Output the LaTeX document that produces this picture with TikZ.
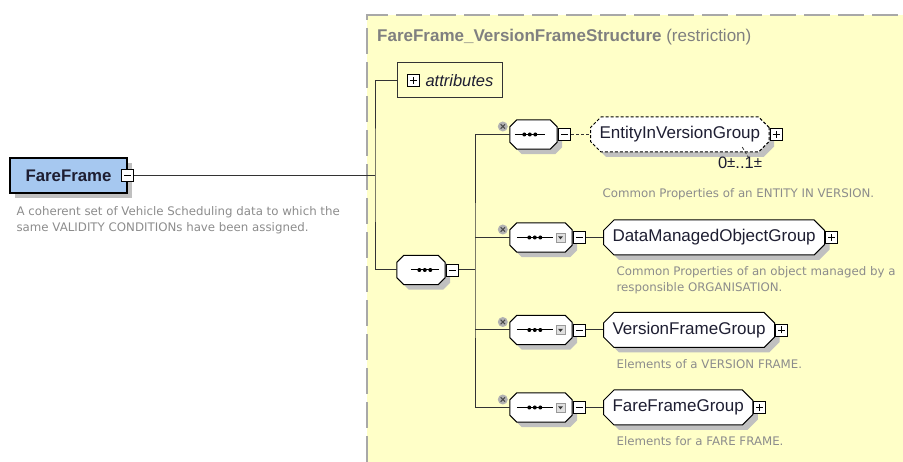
\documentclass[tikz,border=0pt]{standalone}
\usepackage{fontspec}
\setmainfont{Liberation Sans}
\newfontfamily\notefont{DejaVu Sans}
\usetikzlibrary{shapes.misc, positioning, shadows}

\definecolor{structfill}{HTML}{FFFFC8}
\definecolor{elemfill}{HTML}{A6C8F0}
\definecolor{notegray}{HTML}{8C8C8C}
\definecolor{titlegray}{HTML}{808080}
\definecolor{dashgray}{HTML}{A8A8A8}
\definecolor{shadowgray}{HTML}{C0C0C0}
\definecolor{labelink}{HTML}{1E1E32}

\tikzstyle{line} = [draw, line width=1pt, black!80]
\tikzstyle{optline} = [line, dash pattern=on 3pt off 2pt]
\tikzstyle{shadowed} = [drop shadow={shadow xshift=5pt, shadow yshift=-5pt, fill=shadowgray, opacity=1}]
\tikzstyle{elembox} = [rectangle, draw=black, line width=1.2pt, fill=elemfill, minimum width=117pt, minimum height=35pt, text=labelink, font=\bfseries\fontsize{16.8}{20}\selectfont, shadowed]
\tikzstyle{attrbox} = [rectangle, draw=black!80, line width=1pt, fill=structfill, minimum height=35pt, inner xsep=9pt, anchor=west, text=labelink, font=\itshape\fontsize{16.5}{20}\selectfont]
\tikzstyle{seqbox} = [rectangle, minimum height=29pt, inner sep=0pt]
\tikzstyle{seqedge} = [draw=black, line width=1pt, fill=white, shadowed]
\tikzstyle{grpbox} = [chamfered rectangle, chamfered rectangle xsep=7pt, draw=black, line width=1pt, fill=white, minimum height=35pt, inner xsep=2pt, anchor=west, text=labelink, font=\fontsize{17}{20}\selectfont, shadowed]
\tikzstyle{minusbox} = [rectangle, draw=black, fill=white, line width=0.9pt, minimum size=12pt, inner sep=0pt, path picture={\draw[line width=0.9pt] ([xshift=-3.5pt]path picture bounding box.center) -- ([xshift=3.5pt]path picture bounding box.center);}]
\tikzstyle{plusbox} = [rectangle, draw=black, fill=white, line width=0.9pt, minimum size=12pt, inner sep=0pt, path picture={\draw[line width=0.9pt] ([xshift=-3.5pt]path picture bounding box.center) -- ([xshift=3.5pt]path picture bounding box.center) ([yshift=-3.5pt]path picture bounding box.center) -- ([yshift=3.5pt]path picture bounding box.center);}]
\tikzstyle{dropbtn} = [rectangle, draw=black!40, fill=black!12, minimum size=9pt, inner sep=0pt, path picture={\fill[black!80] ([xshift=-2.5pt,yshift=1.2pt]path picture bounding box.center) -- ++(5pt,0pt) -- ++(-2.5pt,-3pt) -- cycle;}]
\tikzstyle{optdot} = [circle, fill=black!30, minimum size=10pt, inner sep=0pt, path picture={\draw[black!70, line width=1pt] ([shift={(-2.2pt,-2.2pt)}]path picture bounding box.center) -- ([shift={(2.2pt,2.2pt)}]path picture bounding box.center) ([shift={(-2.2pt,2.2pt)}]path picture bounding box.center) -- ([shift={(2.2pt,-2.2pt)}]path picture bounding box.center);}]
\tikzstyle{notetext} = [inner sep=0pt, align=left, text=notegray, font=\notefont\fontsize{11.8}{16}\selectfont]
\tikzstyle{titletext} = [inner sep=0pt, text=titlegray, font=\fontsize{17}{20}\selectfont]
\tikzstyle{multtext} = [inner sep=0pt, text=labelink, font=\fontsize{16.5}{18}\selectfont]

% octagon outline round a sequence node
\newcommand{\seqshape}[2]{%
  \path[seqedge] ([xshift=#2]#1.north west) -- ([xshift=-#2]#1.north east) -- ([yshift=-#2]#1.north east)
    -- ([yshift=#2]#1.south east) -- ([xshift=-#2]#1.south east) -- ([xshift=#2]#1.south west)
    -- ([yshift=#2]#1.south west) -- ([yshift=-#2]#1.north west) -- cycle;
}
\newcommand{\seqsym}[3]{%
  \draw[line width=1pt] ([xshift=#2]#1.west) -- ++(#3,0pt);
  \foreach \dx in {-5.5,0,5.5}
    \fill ([xshift=#2+#3/2+\dx pt]#1.west) circle (2pt);
}
\newcommand{\dropicon}[1]{\node (#1drop) [dropbtn, left=7pt of #1.east] {};}
\newcommand{\optmark}[1]{\node (#1opt) [optdot] at ([xshift=-7pt,yshift=8pt]#1.west) {};}
\newcommand{\updown}[1]{\raisebox{1.5pt}{\fontsize{15}{16}\selectfont\textcolor{#1}{±}}}

\begin{document}
\begin{tikzpicture}[x=1pt, y=-1pt]
\useasboundingbox (0,0) rectangle (903,462);

% restriction frame
\fill[structfill] (367,15) rectangle (903,462);
\draw[dashgray, line width=2pt, dash pattern=on 26pt off 8pt] (367,462) -- (367,15) -- (903,15);
\node (title) [titletext, anchor=base west] at (377,42) {\textbf{FareFrame\_VersionFrameStructure} (restriction)};

\node (fareframe) [elembox] at (68.5,175.5) {FareFrame};
\node (ffminus) [minusbox] at (fareframe.east) {};
\node (ffnote) [notetext, below right=13pt and 7pt of fareframe.south west] {A coherent set of Vehicle Scheduling data to which the\\same VALIDITY CONDITIONs have been assigned.};

\node (attr) [attrbox] at (397,80.5) {\hspace{19pt}attributes};
\node (attrplus) [plusbox, right=10pt of attr.west] {};

\node (mainseq) [seqbox, minimum width=48pt] at (421,270) {};
\node (seq1) [seqbox, minimum width=47pt] at (533.5,134.5) {};
\node (seq2) [seqbox, minimum width=62pt] at (541,237.5) {};
\node (seq3) [seqbox, minimum width=62pt] at (541,330) {};
\node (seq4) [seqbox, minimum width=62pt] at (541,407.5) {};

% compositor symbols
\seqshape{mainseq}{7pt}
\seqshape{seq1}{7pt}
\seqshape{seq2}{7pt}
\seqshape{seq3}{7pt}
\seqshape{seq4}{7pt}
\seqsym{mainseq}{14pt}{28pt}
\seqsym{seq1}{5pt}{30pt}
\seqsym{seq2}{7pt}{36pt}
\seqsym{seq3}{7pt}{36pt}
\seqsym{seq4}{7pt}{36pt}
\dropicon{seq2}
\dropicon{seq3}
\dropicon{seq4}

\node (mainminus) [minusbox, right=1pt of mainseq] {};
\node (seq1minus) [minusbox, right=1pt of seq1] {};
\node (seq2minus) [minusbox, right=1pt of seq2] {};
\node (seq3minus) [minusbox, right=1pt of seq3] {};
\node (seq4minus) [minusbox, right=1pt of seq4] {};

\node (grp1) [grpbox, dash pattern=on 3pt off 2pt] at (590,134.5) {EntityInVersionGroup};
\node (grp1plus) [plusbox, right=0pt of grp1] {};
\node (grp1mult) [multtext, below left=10pt and 2pt of grp1.south east] {0\updown{labelink}..1\updown{labelink}};
\node (grp1note) [notetext, below right=41pt and 7pt of grp1.south west] {Common Properties of an ENTITY IN VERSION.};

\node (grp2) [grpbox] at (603,237.5) {DataManagedObjectGroup};
\node (grp2plus) [plusbox, right=0pt of grp2] {};
\node (grp2note) [notetext, below right=16pt and 8pt of grp2.south west] {Common Properties of an object managed by a\\responsible ORGANISATION.};

\node (grp3) [grpbox] at (603,330) {VersionFrameGroup};
\node (grp3plus) [plusbox, right=0pt of grp3] {};
\node (grp3note) [notetext, below right=17pt and 8pt of grp3.south west] {Elements of a VERSION FRAME.};

\node (grp4) [grpbox] at (603,407.5) {FareFrameGroup};
\node (grp4plus) [plusbox, right=0pt of grp4] {};
\node (grp4note) [notetext, below right=16pt and 8pt of grp4.south west] {Elements for a FARE FRAME.};

% connectors
\coordinate (busA) at (375,175.5);
\coordinate (busB) at (475,270);
\draw[line] (ffminus.east) -- (busA);
\draw[line] (attr.west) -| (busA) |- (mainseq.west);
\draw[line] (mainminus.east) -- (busB);
\draw[line] (seq1.west) -| (busB) |- (seq4.west);
\draw[line] (seq2.west) -- (seq2.west -| busB);
\draw[line] (seq3.west) -- (seq3.west -| busB);
\draw[optline] (seq1minus.east) -- (grp1.west);
\draw[line] (seq2minus.east) -- (grp2.west);
\draw[line] (seq3minus.east) -- (grp3.west);
\draw[line] (seq4minus.east) -- (grp4.west);
\draw[optline, line width=0.8pt] ([xshift=-22pt]grp1.south east) -- ([xshift=-14pt]grp1mult.north east);

\optmark{seq1}
\optmark{seq2}
\optmark{seq3}
\optmark{seq4}
\end{tikzpicture}
\end{document}
